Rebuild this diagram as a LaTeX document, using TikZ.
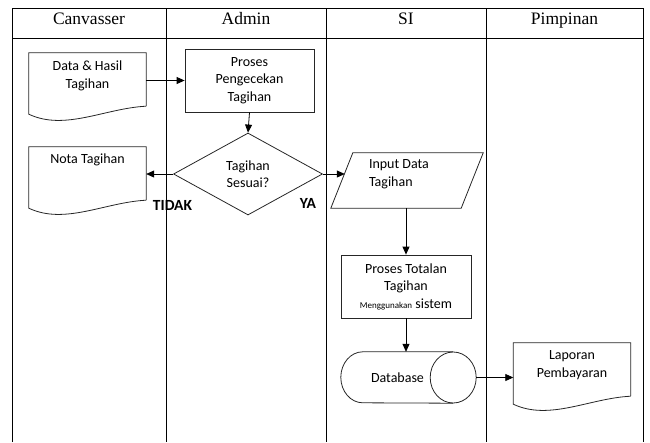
\documentclass[tikz,border=0pt]{standalone}
\usepackage{fontspec}
\setmainfont{Carlito}
\newfontfamily\judulfont{Liberation Serif}
\usetikzlibrary{arrows.meta}
\usetikzlibrary{shapes.geometric}
\usetikzlibrary{calc}

\tikzset{
  garis/.style={draw=black!85, line width=0.8pt},
  lajur/.style={draw=black, line width=0.9pt},
  panah/.style={line width=0.8pt, -{Triangle[length=8pt,width=7pt]}},
  judul/.style={anchor=base, font=\judulfont\fontsize{17.5}{20}\selectfont},
  proses/.style={garis, rectangle, align=center, inner sep=0pt, font=\fontsize{14}{17.5}\selectfont},
  dokumen/.style={rectangle, inner sep=0pt, minimum width=117pt, minimum height=61pt, font=\fontsize{14}{17.5}\selectfont},
  keputusan/.style={garis, diamond, aspect=1.8, inner sep=0pt, minimum width=149pt, minimum height=82pt, align=center, font=\fontsize{14}{17.5}\selectfont},
  ket/.style={font=\bfseries\fontsize{15.5}{18}\selectfont}
}
% document outline with wavy bottom
\newcommand{\ombak}[1]{\draw[garis] ([yshift=8pt]#1.south east) -- (#1.north east) -- (#1.north west) -- (#1.south west) .. controls ([xshift=36pt,yshift=-17pt]#1.south west) and ([xshift=-41pt,yshift=6pt]#1.south east) .. ([yshift=8pt]#1.south east);}

\begin{document}
\begin{tikzpicture}[x=1pt,y=1pt]
		\useasboundingbox (0,0) rectangle (650,-442);
		
		% lanes
		\draw[lajur] (12,-442) -- (12,-8) -- (643,-8) -- (643,-442);
		\draw[lajur] (12,-38) -- (643,-38);
		\foreach \x in {166,326,486}
			\draw[lajur] (\x,-8) -- (\x,-442);
		\node[judul] (hCanvasser) at (89,-24.5) {Canvasser};
		\node[judul] (hAdmin) at (246,-24.5) {Admin};
		\node[judul] (hSI) at (406,-24.5) {SI};
		\node[judul] (hPimpinan) at (564.5,-24.5) {Pimpinan};
		
		% documents
		\node[dokumen] (data) at (87.5,-83.5) {\parbox[c][45pt][t]{117pt}{\centering Data \& Hasil\\Tagihan}};
		\node[dokumen] (nota) at (87.5,-177.5) {\parbox[c][47pt][t]{117pt}{\centering Nota Tagihan}};
		\node[dokumen] (lap) at (572,-373.5) {\parbox[c][45pt][t]{116pt}{\centering Laporan\\Pembayaran}};
		\ombak{data}
		\ombak{nota}
		\ombak{lap}
		
		% process and decision
		\node[proses, minimum width=129pt, minimum height=63pt] (cek) at (249.5,-80.5) {Proses\\Pengecekan\\Tagihan};
		\node[keputusan] (dia) at (248,-174) {Tagihan\\Sesuai?};
		\node[proses, minimum width=130pt, minimum height=63pt] (tot) at (406,-286.5) {Proses Totalan\\Tagihan\\{\fontsize{9}{10}\selectfont Menggunakan} sistem};
		
		% input
		\node[dokumen, minimum width=130pt, minimum height=55pt] (inp) at (407,-180.5) {\parbox[c][41pt][t]{130pt}{\raggedright\leftskip=27pt Input Data\\Tagihan}};
		\draw[garis] ([xshift=11pt]inp.north west) -- ([xshift=11pt]inp.north east) -- ([xshift=-11pt]inp.south east) -- ([xshift=-11pt]inp.south west) -- cycle;
		
		% database
		\node[inner sep=0pt, minimum width=135pt, minimum height=51pt, font=\fontsize{14}{17.5}\selectfont] (db) at (408.5,-377.5) {Database\hspace*{22pt}};
		\draw[garis] ([xshift=-23pt]db.north east) -- ([xshift=22pt]db.north west) arc[start angle=90, end angle=270, x radius=22pt, y radius=25.5pt] -- ([xshift=-23pt]db.south east);
		\draw[garis] ([xshift=-23pt]db.east) ellipse [x radius=23pt, y radius=25.5pt];
		
		% labels
		\node[ket] (tidak) at (172.5,-205) {TIDAK};
		\node[ket] (ya) at (308,-203) {YA};
		
		% arrows
		\draw[panah] (cek.west -| data.east) -- (cek.west);
		\draw[panah] (cek.south) -- (dia.north);
		\draw[panah] (dia.west) -- (dia.west -| nota.east);
		\draw[panah] (dia.east) -- ($(dia.east -| inp.west)+(3,0)$);
		\draw[panah] (tot.north |- inp.south) -- (tot.north);
		\draw[panah] (tot.south) -- (tot.south |- db.north);
		\draw[panah] (db.east) -- (db.east -| lap.west);
\end{tikzpicture}
\end{document}
